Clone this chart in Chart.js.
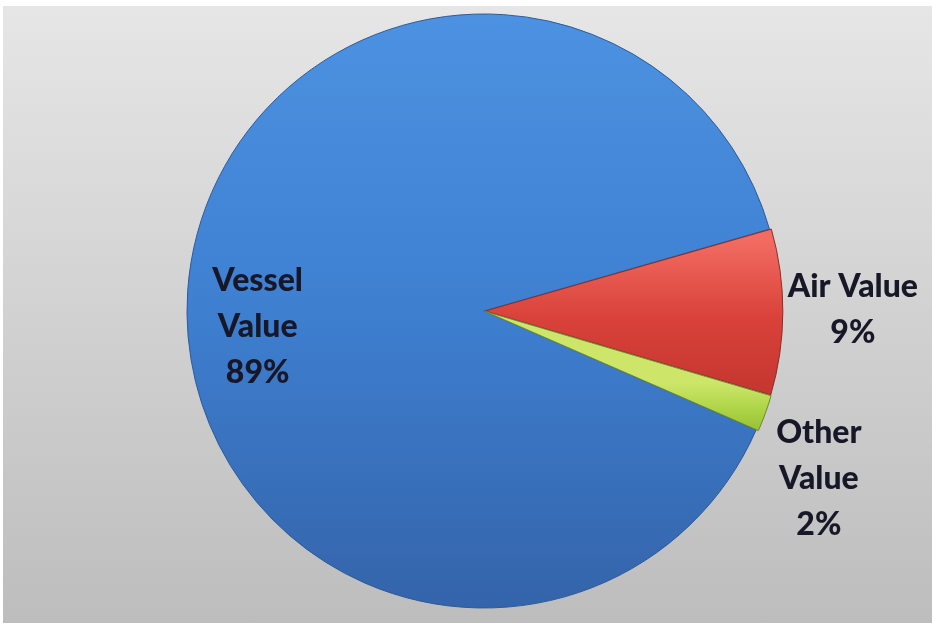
<!DOCTYPE html>
<html>
<head>
<meta charset="utf-8">
<script src="https://cdn.jsdelivr.net/npm/chart.js@4.4.1/dist/chart.umd.min.js"></script>
<style>
  html, body { margin: 0; padding: 0; background: #fff; }
  #frame { position: absolute; left: 3px; top: 6px; width: 929px; height: 617px;
           background: linear-gradient(#e6e6e6, #bdbdbd); }
  #wrap { position: absolute; left: 0; top: 0; width: 932px; height: 625px; }
</style>
</head>
<body>
<div id="frame"></div>
<div id="wrap"><canvas id="chart"></canvas></div>
<script>
// data
const categories = ['Vessel Value', 'Air Value', 'Other Value'];
const shares = [89, 9, 2];
const labelLines = [['Vessel', 'Value', '89%'], ['Air Value', '9%'], ['Other', 'Value', '2%']];

// styling
const palette = [
    { light: '#4d92e2', mid: '#3e7fd0', dark: '#3464aa', edge: '#2c5a98', from: 0.0, to: 1.0 },
    { light: '#f26c62', mid: '#d9423a', dark: '#c4362f', edge: '#8e2a24', from: 0.38, to: 0.64 },
    { light: '#cde66a', mid: '#a9d142', dark: '#8cb532', edge: '#6b8a2a', from: 0.62, to: 0.72 }
];
const labelAngle = [176, -0.2, 26.6];   // degrees from pie centre
const labelDist = [0.764, 1.242, 1.261]; // times outer radius

function sliceFill(context) {
    const chart = context.chart;
    const area = chart.chartArea;
    const p = palette[context.dataIndex];
    if (!area) return p.mid;
    const h = area.bottom - area.top;
    const g = chart.ctx.createLinearGradient(0, area.top + p.from * h, 0, area.top + p.to * h);
    g.addColorStop(0, p.light);
    g.addColorStop(0.5, p.mid);
    g.addColorStop(1, p.dark);
    return g;
}

const labelPlugin = {
    id: 'sliceLabels',
    afterDatasetsDraw(chart) {
        const arcs = chart.getDatasetMeta(0).data;
        if (!arcs.length) return;
        const { x, y, outerRadius } = arcs[0].getProps(['x', 'y', 'outerRadius'], true);
        const ctx = chart.ctx;
        ctx.save();
        ctx.font = '900 32px Lato';
        ctx.fillStyle = '#171728';
        ctx.textAlign = 'center';
        ctx.textBaseline = 'middle';
        labelLines.forEach((lines, i) => {
            const a = labelAngle[i] * Math.PI / 180;
            const cx = x + Math.cos(a) * outerRadius * labelDist[i];
            const cy = y + Math.sin(a) * outerRadius * labelDist[i];
            lines.forEach((t, j) => {
                ctx.fillText(t, cx, cy + (j - (lines.length - 1) / 2) * 46);
            });
        });
        ctx.restore();
    }
};

new Chart(document.getElementById('chart'), {
    type: 'pie',
    data: {
        labels: categories,
        datasets: [{
            data: shares,
            backgroundColor: sliceFill,
            borderColor: palette.map(p => p.edge),
            borderWidth: 1,
            offset: [0, 5, 5]
        }]
    },
    options: {
        responsive: true,
        maintainAspectRatio: false,
        animation: false,
        rotation: 113.6,
        radius: 297,
        layout: { padding: { left: 36, top: 13, right: 0, bottom: 16 } },
        plugins: {
            legend: { display: false },
            tooltip: { enabled: false }
        }
    },
    plugins: [labelPlugin]
});
</script>
</body>
</html>
